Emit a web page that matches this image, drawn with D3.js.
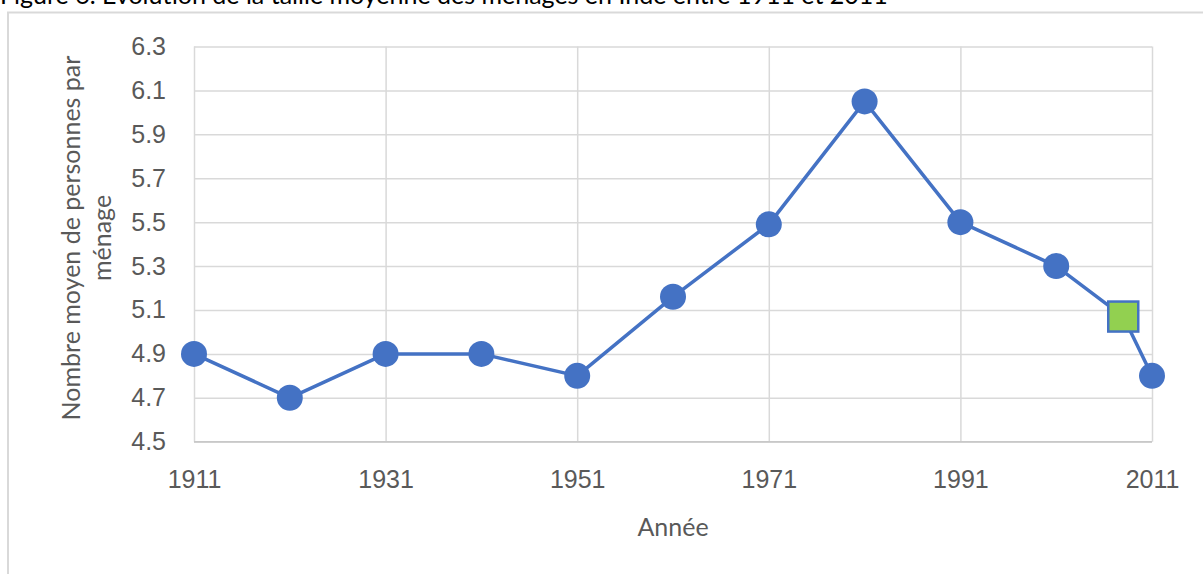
<!DOCTYPE html>
<html>
<head>
<meta charset="utf-8">
<script src="https://cdn.jsdelivr.net/npm/d3@7"></script>
<style>
  body { margin: 0; background: #fff; }
  svg { display: block; font-family: Lato, "Open Sans", sans-serif; }
  .tick text { fill: #595959; font-size: 25px; }
  .axisTitle { fill: #595959; font-size: 25px; }
</style>
</head>
<body>
<div id="svganchor"></div>
<script>
let width = 1203, height = 574;

let margin = ({top: 46.5, right: 51, bottom: 132.3, left: 194});

// data
let years = [1911, 1921, 1931, 1941, 1951, 1961, 1971, 1981, 1991, 2001, 2011];
let sizes = [4.9, 4.7, 4.9, 4.9, 4.8, 5.16, 5.49, 6.05, 5.5, 5.3, 4.8];
let highlightYear = 2008;
let highlightSize = 5.07;

let xTicks = [1911, 1931, 1951, 1971, 1991, 2011];
let yTicks = [4.5, 4.7, 4.9, 5.1, 5.3, 5.5, 5.7, 5.9, 6.1, 6.3];

let titleText = "Figure 6. Evolution de la taille moyenne des ménages en Inde entre 1911 et 2011";

let xScale = d3.scaleLinear()
    .domain([1911, 2011])
    .range([margin.left, width - margin.right]);

let yScale = d3.scaleLinear()
    .domain([4.5, 6.3])
    .range([height - margin.bottom, margin.top]);

let svg = d3.select("#svganchor")
    .append("svg")
    .attr("width", width)
    .attr("height", height);

// outer chart frame (bottom / right fall outside the crop)
svg.append("rect")
    .attr("x", 8)
    .attr("y", 12.5)
    .attr("width", width + 20)
    .attr("height", height + 20)
    .attr("fill", "none")
    .attr("stroke", "#d9d9d9")
    .attr("stroke-width", 2);

// title is cropped at the top in the reference too
svg.append("text")
    .attr("x", 0)
    .attr("y", 4)
    .attr("fill", "#000")
    .style("font-size", "25px")
    .text(titleText);

let xAxis = d3.axisBottom(xScale)
    .tickValues(xTicks)
    .tickFormat(d3.format("d"))
    .tickSizeInner(-(height - margin.top - margin.bottom))
    .tickSizeOuter(0)
    .tickPadding(29);

let yAxis = d3.axisLeft(yScale)
    .tickValues(yTicks)
    .tickFormat(d3.format(".1f"))
    .tickSizeInner(-(width - margin.left - margin.right))
    .tickSizeOuter(0)
    .tickPadding(28);

let gY = svg.append("g")
    .attr("class", "y axis")
    .attr("transform", "translate(" + margin.left + ",0)")
    .call(yAxis);

let gX = svg.append("g")
    .attr("class", "x axis")
    .attr("transform", "translate(0," + (height - margin.bottom) + ")")
    .call(xAxis);

svg.selectAll(".axis .domain").remove();
svg.selectAll(".axis .tick line")
    .attr("stroke", "#d9d9d9")
    .attr("stroke-width", 1.5);

// bottom axis line
svg.append("line")
    .attr("x1", margin.left)
    .attr("x2", width - margin.right)
    .attr("y1", yScale(4.5))
    .attr("y2", yScale(4.5))
    .attr("stroke", "#c8c8c8")
    .attr("stroke-width", 1.5);

svg.append("text")
    .attr("class", "axisTitle")
    .attr("text-anchor", "middle")
    .attr("x", 673)
    .attr("y", 536)
    .text("Année");

let yTitle = svg.append("text")
    .attr("class", "axisTitle")
    .attr("text-anchor", "middle")
    .attr("transform", "translate(80,238) rotate(-90)");
yTitle.append("tspan").attr("x", 0).attr("y", 0).text("Nombre moyen de personnes par");
yTitle.append("tspan").attr("x", 0).attr("y", 31).text("ménage");

// the line runs through the highlighted point as well
let points = years.map(function(d, i) { return {year: d, size: sizes[i]}; });
points.push({year: highlightYear, size: highlightSize});
points.sort(function(a, b) { return a.year - b.year; });

let line = d3.line()
    .x(function(d) { return xScale(d.year); })
    .y(function(d) { return yScale(d.size); });

svg.append("path")
    .datum(points)
    .attr("d", line)
    .attr("fill", "none")
    .attr("stroke", "#4472c4")
    .attr("stroke-width", 3.5)
    .attr("stroke-linejoin", "round");

svg.selectAll(".dot")
    .data(years)
    .enter()
    .append("circle")
    .attr("class", "dot")
    .attr("cx", function(d) { return xScale(d); })
    .attr("cy", function(d, i) { return yScale(sizes[i]); })
    .attr("r", 13)
    .attr("fill", "#4472c4");

let sq = 30;
svg.append("rect")
    .attr("x", xScale(highlightYear) - sq / 2)
    .attr("y", yScale(highlightSize) - sq / 2)
    .attr("width", sq)
    .attr("height", sq)
    .attr("fill", "#92d050")
    .attr("stroke", "#4472c4")
    .attr("stroke-width", 2.5);
</script>
</body>
</html>
